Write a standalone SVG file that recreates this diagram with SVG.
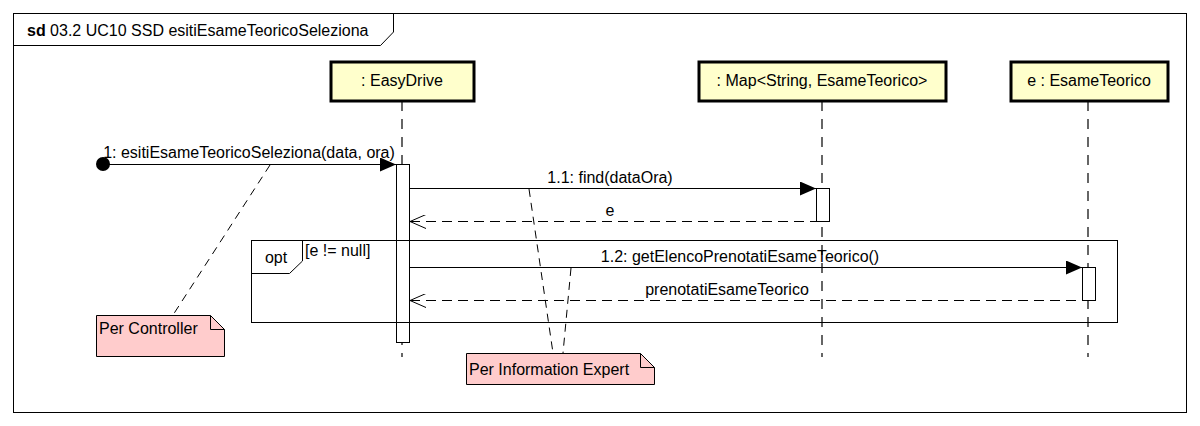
<svg xmlns="http://www.w3.org/2000/svg" width="1200" height="426" viewBox="0 0 1200 426">
<defs>
<style>
text{font-family:"Liberation Sans",Arial,sans-serif;font-size:16px;fill:#000}
.ln{stroke:#000;stroke-width:1;fill:none}
.life{stroke:#000;stroke-width:1.2;stroke-dasharray:10,8;fill:none}
.ret{stroke:#000;stroke-width:1;stroke-dasharray:10,6;fill:none}
.nl{stroke:#000;stroke-width:1;stroke-dasharray:8,6;fill:none}
.obj{fill:#ffffcc;stroke:#000;stroke-width:3}
.act{fill:#fff;stroke:#000;stroke-width:1}
.note{fill:#ffcccc;stroke:#000;stroke-width:1}
</style>
<marker id="fill" markerWidth="16" markerHeight="14" refX="16" refY="7" orient="auto" markerUnits="userSpaceOnUse">
<path d="M0,0 L16,7 L0,14 Z" fill="#000"/>
</marker>
<marker id="open" markerWidth="16" markerHeight="14" refX="0" refY="7" orient="auto" markerUnits="userSpaceOnUse">
<path d="M16,0 L0,7 L16,14" fill="none" stroke="#000" stroke-width="1"/>
</marker>
</defs>
<rect width="1200" height="426" fill="#fff"/>
<g id="frame">
<rect x="13.5" y="13.5" width="1173" height="399" class="ln"/>
<path d="M13.5,45.5 H380.5 L393.5,32 V13.5" class="ln"/>
<text x="27" y="36"><tspan font-weight="bold">sd</tspan> 03.2 UC10 SSD esitiEsameTeoricoSeleziona</text>
</g>
<g id="lifelines">
<line x1="402" y1="101" x2="402" y2="357" class="life"/>
<line x1="822" y1="101" x2="822" y2="357" class="life"/>
<line x1="1088" y1="101" x2="1088" y2="357" class="life"/>
</g>
<g id="EasyDrive">
<rect x="331" y="62" width="143" height="39" class="obj"/>
<text x="402" y="86" text-anchor="middle">: EasyDrive</text>
<rect x="396.5" y="164.5" width="13" height="178" class="act"/>
</g>
<g id="Map">
<rect x="699" y="62" width="247" height="39" class="obj"/>
<text x="822" y="86" text-anchor="middle">: Map&lt;String, EsameTeorico&gt;</text>
<rect x="816.5" y="188.5" width="13" height="33" class="act"/>
</g>
<g id="EsameTeorico">
<rect x="1011" y="62" width="157" height="39" class="obj"/>
<text x="1089" y="86" text-anchor="middle">e : EsameTeorico</text>
<rect x="1082.5" y="267.5" width="13" height="33" class="act"/>
</g>
<g id="opt">
<rect x="251.5" y="240.5" width="866" height="82" class="ln"/>
<path d="M251.5,273.5 H289.5 L302.5,261 V240.5" class="ln"/>
<text x="276" y="263" text-anchor="middle">opt</text>
<text x="305" y="256" font-size="15">[e != null]</text>
</g>
<g id="connectors">
<circle cx="103" cy="164" r="7" fill="#000"/>
<line x1="103" y1="164.5" x2="396" y2="164.5" class="ln" marker-end="url(#fill)"/>
<text x="249" y="158" text-anchor="middle">1: esitiEsameTeoricoSeleziona(data, ora)</text>
<line x1="410" y1="188.5" x2="816" y2="188.5" class="ln" marker-end="url(#fill)"/>
<text x="610" y="183" text-anchor="middle">1.1: find(dataOra)</text>
<line x1="410" y1="221.5" x2="816" y2="221.5" class="ret" marker-start="url(#open)"/>
<text x="610" y="216" text-anchor="middle">e</text>
<line x1="410" y1="267.5" x2="1082" y2="267.5" class="ln" marker-end="url(#fill)"/>
<text x="740" y="262" text-anchor="middle">1.2: getElencoPrenotatiEsameTeorico()</text>
<line x1="410" y1="300.5" x2="1082" y2="300.5" class="ret" marker-start="url(#open)"/>
<text x="727" y="295" text-anchor="middle">prenotatiEsameTeorico</text>
<line x1="270" y1="165" x2="173" y2="315" class="nl"/>
<line x1="529" y1="189" x2="553" y2="353" class="nl"/>
<line x1="571" y1="268" x2="563" y2="353" class="nl"/>
</g>
<g id="noteController">
<path d="M96.5,315.5 H210.5 L224.5,329.5 V356.5 H96.5 Z" class="note"/>
<path d="M210.5,315.5 V329.5 H224.5" class="ln"/>
<text x="99" y="334">Per Controller</text>
</g>
<g id="noteExpert">
<path d="M466.5,353.5 H640.5 L654.5,367.5 V384.5 H466.5 Z" class="note"/>
<path d="M640.5,353.5 V367.5 H654.5" class="ln"/>
<text x="469" y="375">Per Information Expert</text>
</g>
</svg>
